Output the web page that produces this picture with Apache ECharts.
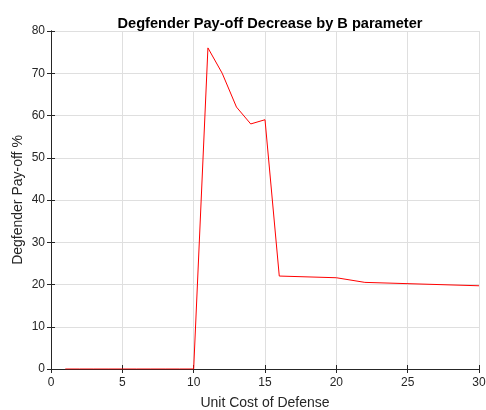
<!DOCTYPE html>
<html><head><meta charset="utf-8">
<script src="https://cdn.jsdelivr.net/npm/echarts@6/dist/echarts.min.js"></script>
<style>html,body{margin:0;padding:0;background:#fff}#c{width:486px;height:410px}</style>
</head><body><div id="c"></div>
<script>
var xValues = [1, 2, 3, 4, 5, 6, 7, 8, 9, 10, 11, 12, 13, 14, 15, 16, 20, 22, 30];
var yValues = [0, 0, 0, 0, 0, 0, 0, 0, 0, 0, 76, 70, 62, 58, 59, 22, 21.6, 20.5, 19.7];
var titleText = 'Degfender Pay-off Decrease by B parameter';
var xName = 'Unit Cost of Defense';
var yName = 'Degfender Pay-off %';

var pts = xValues.map(function (x, i) { return [x, yValues[i]]; });
var font = '"Liberation Sans", Arial, sans-serif';
var axisCol = '#262626';
var chart = echarts.init(document.getElementById('c'));
var common = {
  axisLine: { show: true, lineStyle: { color: axisCol, width: 1 } },
  axisTick: { show: true, inside: true, length: 4, lineStyle: { color: axisCol } },
  splitLine: { show: false }
};
chart.setOption({
  animation: false,
  title: { text: titleText, left: 265, top: 11, textAlign: 'center',
    textStyle: { fontFamily: font, fontSize: 14.6, fontWeight: 'bold', color: '#000' } },
  grid: { left: 51, right: 7, top: 31, bottom: 41, show: false, outerBoundsMode: 'none', containLabel: false },
  xAxis: [
    Object.assign({ type: 'value', min: 0, max: 30, interval: 5, position: 'bottom',
      name: xName, nameLocation: 'middle', nameGap: 27, nameMoveOverlap: false,
      nameTextStyle: { fontFamily: font, fontSize: 14, color: axisCol },
      axisLabel: { fontFamily: font, fontSize: 12, color: axisCol, margin: 8 },
      splitLine: { show: true, lineStyle: { color: '#dfdfdf', width: 1 } } }, {
      axisLine: common.axisLine, axisTick: common.axisTick }),
    Object.assign({ type: 'value', min: 0, max: 30, interval: 5, position: 'top',
      axisLabel: { show: false } }, common)
  ],
  yAxis: [
    Object.assign({ type: 'value', min: 0, max: 80, interval: 10, position: 'left',
      name: yName, nameLocation: 'middle', nameGap: 26, nameMoveOverlap: false,
      nameTextStyle: { fontFamily: font, fontSize: 14, color: axisCol },
      axisLabel: { fontFamily: font, fontSize: 12, color: axisCol, margin: 6 },
      splitLine: { show: true, lineStyle: { color: '#dfdfdf', width: 1 } } }, {
      axisLine: common.axisLine, axisTick: common.axisTick }),
    Object.assign({ type: 'value', min: 0, max: 80, interval: 10, position: 'right',
      axisLabel: { show: false } }, common)
  ],
  series: [{
    type: 'line', data: pts, showSymbol: false, symbol: 'none',
    lineStyle: { color: '#ff0000', width: 1 }, itemStyle: { color: '#ff0000' }
  }]
});
</script></body></html>
